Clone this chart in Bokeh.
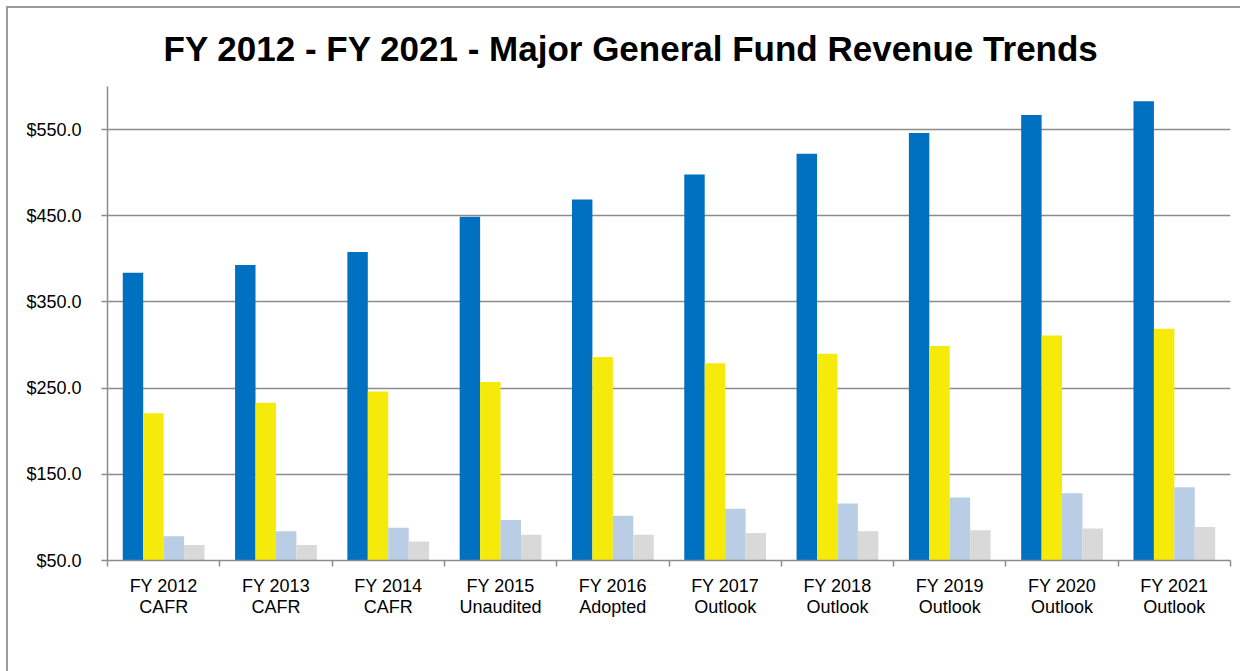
from bokeh.plotting import figure
from bokeh.models import (Range1d, LinearAxis, FixedTicker,
                          NumeralTickFormatter, Legend, LegendItem, ColumnDataSource)
from bokeh.transform import dodge
from bokeh.embed import file_html
from bokeh.resources import INLINE

# ---- data ----
categories = ["FY 2012\nCAFR", "FY 2013\nCAFR", "FY 2014\nCAFR", "FY 2015\nUnaudited",
              "FY 2016\nAdopted", "FY 2017\nOutlook", "FY 2018\nOutlook", "FY 2019\nOutlook",
              "FY 2020\nOutlook", "FY 2021\nOutlook"]
property_tax = [384, 393, 408, 449, 469, 498, 522, 546, 567, 583]
sales_tax = [221, 233, 246, 257, 286, 279, 290, 299, 311, 319]
transient_occupancy_tax = [78, 84, 88, 97, 102, 110, 116, 123, 128, 135]
franchise_fees = [68, 68, 72, 80, 80, 82, 84, 85, 87, 89]
series_names = ["Property Tax", "Sales Tax", "Transient Occupancy Tax", "Franchise Fees"]
y_ticks = [50, 150, 250, 350, 450, 550]

colors = ["#0070C0", "#F6EA0A", "#B9CDE5", "#D9D9D9"]
FONT = "Liberation Sans"
GRAY = "#8C8C8C"

n = len(categories)
centers = [i + 0.5 for i in range(n)]
source = ColumnDataSource(dict(xc=centers, prop=property_tax, sales=sales_tax,
                               tot=transient_occupancy_tax, fran=franchise_fees))

p = figure(frame_width=1123, frame_height=474, x_range=Range1d(0, n), y_range=Range1d(50, 600),
           output_backend="svg", toolbar_location=None,
           min_border_left=99, min_border_right=10, min_border_top=78, min_border_bottom=5)
p.outline_line_color = None
p.background_fill_color = "white"
p.border_fill_color = "white"
p.styles = {"margin-left": "6px", "margin-top": "6px",
            "border-left": "2px solid #9a9a9a", "border-top": "2px solid #9a9a9a"}

# title
p.title.text = "FY 2012 - FY 2021 - Major General Fund Revenue Trends"
p.title.align = "left"
p.title.text_font = FONT
p.title.text_font_size = "35px"
p.title.text_font_style = "bold"
p.title.text_color = "#000000"
p.title.offset = 56
p.title.standoff = 37

# bars
w = 0.182
fields = ["prop", "sales", "tot", "fran"]
offsets = [-1.5 * w, -0.5 * w, 0.5 * w, 1.5 * w]
renderers = []
for f, off, c in zip(fields, offsets, colors):
    r = p.vbar(x=dodge("xc", off), top=f, bottom=0, width=w,
               source=source, fill_color=c, line_color=None)
    renderers.append(r)

# y axis
ya = p.yaxis[0]
ya.ticker = FixedTicker(ticks=y_ticks, minor_ticks=[])
ya.formatter = NumeralTickFormatter(format="$0.0")
ya.axis_line_color = GRAY
ya.axis_line_width = 1.5
ya.major_tick_line_color = GRAY
ya.major_tick_line_width = 1.5
ya.major_tick_out = 6
ya.major_tick_in = 0
ya.minor_tick_line_color = None
ya.major_label_text_font = FONT
ya.major_label_text_font_size = "18px"
ya.major_label_text_color = "#000000"
ya.major_label_standoff = 20

p.ygrid.ticker = FixedTicker(ticks=y_ticks[1:])
p.ygrid.grid_line_color = GRAY
p.ygrid.grid_line_width = 1.5
p.xgrid.visible = False

# boundary ticks axis (default x axis)
bax = p.xaxis[0]
bax.ticker = FixedTicker(ticks=list(range(n + 1)), minor_ticks=[])
bax.axis_line_color = GRAY
bax.axis_line_width = 1.5
bax.major_tick_line_color = GRAY
bax.major_tick_line_width = 1.5
bax.major_tick_out = 6
bax.major_tick_in = 0
bax.minor_tick_line_color = None
bax.major_label_overrides = {i: "" for i in range(n + 1)}
bax.major_label_text_font_size = "1px"
bax.major_label_text_color = None
bax.major_label_standoff = 0

# category labels axis
cax = LinearAxis(ticker=FixedTicker(ticks=centers, minor_ticks=[]),
                 major_label_overrides={c: lab for c, lab in zip(centers, categories)},
                 axis_line_color=None, major_tick_line_color=None, minor_tick_line_color=None,
                 major_label_text_font=FONT, major_label_text_font_size="18px",
                 major_label_text_color="#000000", major_label_standoff=3,
                 major_label_text_line_height=1.05)
p.add_layout(cax, "below")

legend = Legend(items=[LegendItem(label=nm, renderers=[r]) for nm, r in zip(series_names, renderers)],
                orientation="horizontal", location=(174, 30),
                glyph_width=9, glyph_height=9, label_standoff=2, spacing=36,
                label_text_font=FONT, label_text_font_size="20px", label_text_color="#000000",
                border_line_color=None, background_fill_alpha=0, padding=0, margin=0)
p.add_layout(legend, "below")

open("out.html", "w").write(file_html(p, INLINE))
